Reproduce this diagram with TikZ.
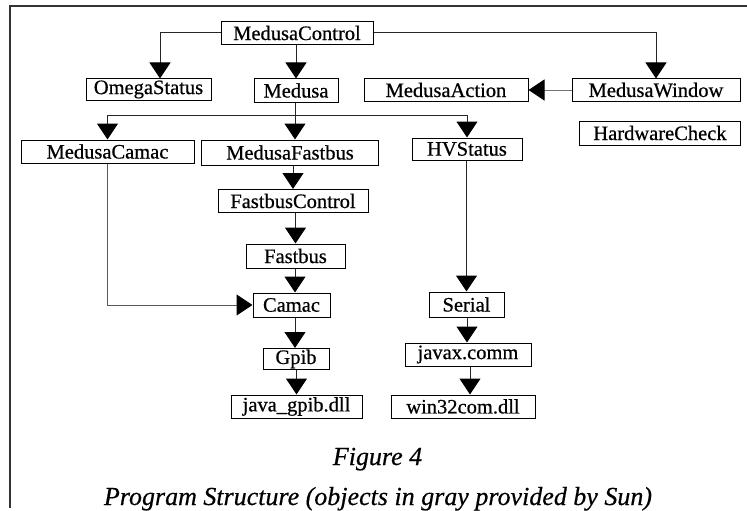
\documentclass[tikz,border=0pt]{standalone}
\usepackage{fontspec}
\setmainfont{Liberation Serif}
\newfontfamily\nodefont{Liberation Serif}[FakeBold=0.6]
\newfontfamily\capfont{Liberation Serif}[FakeBold=0.5]
\usetikzlibrary{arrows.meta}
\tikzset{
  box/.style={draw=black, line width=1pt, inner sep=0pt, minimum height=23pt,
    font=\nodefont\fontsize{20.5}{24}\selectfont, anchor=center},
  arr/.style={draw=black!85, line width=1pt, -{Triangle[length=16pt,width=21pt,color=black]}},
  ln/.style={draw=black!85, line width=1pt},
  captext/.style={font=\capfont\fontsize{26}{30}\selectfont\itshape, anchor=base, inner sep=0pt}
}
\begin{document}
\begin{tikzpicture}[x=1pt,y=-1pt]
\useasboundingbox (0,0) rectangle (747,511);
% frame
\draw[line width=1.4pt, black!80] (747,6) -- (10,6) -- (10,508);
% nodes
\node[box, minimum width=152pt] (MC) at (297,33) {MedusaControl};
\node[box, minimum width=125pt, minimum height=21pt] (OS) at (148.5,89.5) {OmegaStatus};
\node[box, minimum width=84pt] (Me) at (296,90.5) {Medusa};
\node[box, minimum width=164pt, minimum height=22pt] (MA) at (446,90) {MedusaAction};
\node[box, minimum width=168pt, minimum height=22pt] (MW) at (656,90) {MedusaWindow};
\node[box, minimum width=161pt, minimum height=24pt] (HC) at (660,133) {HardwareCheck};
\node[box, minimum width=173pt] (MCa) at (107.5,151.5) {MedusaCamac};
\node[box, minimum width=177pt, minimum height=25pt] (MF) at (290,152.5) {MedusaFastbus};
\node[box, minimum width=110pt, minimum height=22pt] (HV) at (467,149) {HVStatus};
\node[box, minimum width=150pt] (FC) at (293,201) {FastbusControl};
\node[box, minimum width=99pt, minimum height=24pt] (FB) at (295.5,256) {Fastbus};
\node[box, minimum width=77pt, minimum height=24pt] (Ca) at (291.5,305) {Camac};
\node[box, minimum width=66pt, minimum height=21pt] (Gp) at (296,359) {Gpib};
\node[box, minimum width=131pt] (JG) at (296.5,406.5) {java\_gpib.dll};
\node[box, minimum width=75pt, minimum height=25pt] (Se) at (466.5,304.5) {Serial};
\node[box, minimum width=126pt] (JC) at (468,354.5) {javax.comm};
\node[box, minimum width=144pt] (W3) at (463,406.5) {win32com.dll};
% captions
\node[captext] (F4) at (377.5,465) {Figure 4};
\node[captext] (PS) at (378,505) {Program Structure (objects in gray provided by Sun)};
% connectors
\draw[arr] (MC.west) -| ([xshift=11.5pt]OS.north);
\draw[arr] (Me.north |- MC.south) -- (Me.north);
\draw[arr] (MC.east) -| (MW.north);
\draw[arr, draw=black!55] (MW.west) -- (MA.east);
\coordinate (bus) at (295,115);
\draw[ln] ([xshift=-1pt]Me.south) -- ([xshift=-1pt]Me.south |- bus);
\draw[ln] (MCa.north |- bus) -- (HV.north |- bus);
\draw[arr] (MCa.north |- bus) -- (MCa.north);
\draw[arr] ([xshift=-1pt]Me.south |- bus) -- ([xshift=-1pt]Me.south |- MF.north);
\draw[arr] (HV.north |- bus) -- (HV.north);
\draw[arr] (FC.north |- MF.south) -- (FC.north);
\draw[arr] (FB.north |- FC.south) -- (FB.north);
\draw[arr] ([xshift=-0.5pt]FB.south) -- ([xshift=-0.5pt]FB.south |- Ca.north);
\draw[arr, draw=black!65] (MCa.south) |- (Ca.west);
\draw[arr] ([xshift=-1pt]Gp.north |- Ca.south) -- ([xshift=-1pt]Gp.north);
\draw[arr] (JG.north |- Gp.south) -- (JG.north);
\draw[arr] (Se.north |- HV.south) -- (Se.north);
\draw[arr] ([xshift=-1pt]JC.south |- Se.south) -- ([xshift=-1pt]JC.north);
\draw[arr] ([xshift=2pt]JC.south) -- ([xshift=2pt]JC.south |- W3.north);
\end{tikzpicture}
\end{document}
